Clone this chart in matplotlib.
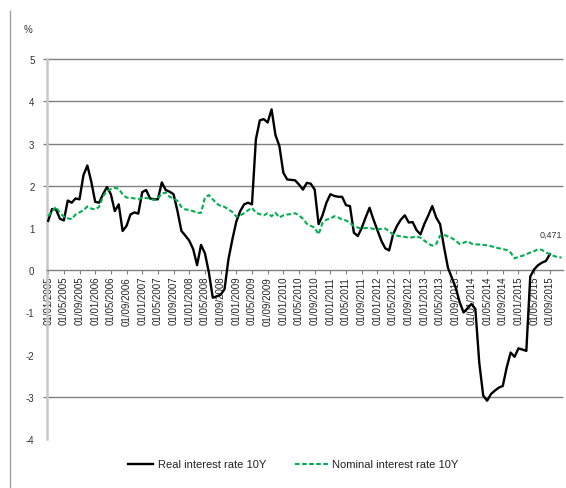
import matplotlib
matplotlib.use('Agg')
import matplotlib.pyplot as plt
from matplotlib.lines import Line2D

plt.rcParams['font.family'] = ['Liberation Sans', 'DejaVu Sans']

# monthly values, first point = 01/01/2005
real_rate = [
    1.17, 1.45, 1.44, 1.22, 1.18, 1.65, 1.60, 1.70, 1.68, 2.25, 2.48, 2.10,
    1.62, 1.60, 1.80, 1.97, 1.80, 1.40, 1.56, 0.93, 1.05, 1.32, 1.37, 1.34,
    1.85, 1.90, 1.70, 1.68, 1.68, 2.08, 1.90, 1.86, 1.80, 1.40, 0.93, 0.82,
    0.70, 0.50, 0.12, 0.60, 0.40, -0.05, -0.65, -0.62, -0.58, -0.45, 0.26, 0.73,
    1.15, 1.40, 1.56, 1.60, 1.56, 3.10, 3.55, 3.58, 3.50, 3.81, 3.20, 2.94,
    2.31, 2.15, 2.14, 2.13, 2.03, 1.91, 2.07, 2.05, 1.91, 1.09, 1.30, 1.60,
    1.80, 1.76, 1.74, 1.74, 1.54, 1.52, 0.89, 0.81, 1.00, 1.25, 1.48, 1.20,
    0.95, 0.70, 0.52, 0.47, 0.85, 1.05, 1.20, 1.30, 1.13, 1.14, 0.95, 0.85,
    1.10, 1.30, 1.52, 1.25, 1.09, 0.55, 0.06, -0.18, -0.42, -0.76, -1.00, -0.90,
    -0.80, -0.92, -2.20, -2.97, -3.09, -2.93, -2.85, -2.78, -2.74, -2.30, -1.95, -2.05,
    -1.85, -1.88, -1.91, -0.15, 0.02, 0.12, 0.18, 0.22, 0.38,
]

nominal_rate = [
    1.28, 1.40, 1.50, 1.36, 1.27, 1.23, 1.21, 1.32, 1.37, 1.42, 1.51, 1.46,
    1.44, 1.50, 1.75, 1.88, 1.92, 1.95, 1.93, 1.80, 1.72, 1.72, 1.70, 1.68,
    1.72, 1.71, 1.70, 1.66, 1.70, 1.82, 1.84, 1.74, 1.70, 1.64, 1.50, 1.44,
    1.43, 1.40, 1.36, 1.36, 1.72, 1.78, 1.68, 1.58, 1.52, 1.50, 1.44, 1.38,
    1.27, 1.30, 1.35, 1.42, 1.48, 1.36, 1.33, 1.30, 1.35, 1.28, 1.36, 1.25,
    1.30, 1.32, 1.33, 1.35, 1.30, 1.22, 1.10, 1.05, 1.01, 0.85, 1.12, 1.20,
    1.22, 1.28, 1.25, 1.20, 1.18, 1.12, 1.05, 1.01, 0.99, 1.00, 1.00, 0.98,
    0.97, 0.98, 0.99, 0.92, 0.85, 0.82, 0.80, 0.79, 0.77, 0.78, 0.80, 0.77,
    0.70, 0.63, 0.58, 0.62, 0.82, 0.84, 0.80, 0.76, 0.70, 0.62, 0.65, 0.69,
    0.63, 0.61, 0.61, 0.60, 0.59, 0.57, 0.54, 0.52, 0.50, 0.48, 0.42, 0.28,
    0.32, 0.34, 0.38, 0.42, 0.45, 0.50, 0.48, 0.42, 0.38, 0.34, 0.31, 0.30,
]

# tick labels every 4 months
tick_labels = [f"01/{mo:02d}/{yr}" for yr in range(2005, 2016) for mo in (1, 5, 9)]
last_label = "0,471"

grid_values = [5, 4, 3, 2, -3]

fig = plt.figure(figsize=(5.66, 4.89), dpi=100)
ax = fig.add_axes([0.083, 0.100, 0.912, 0.777])

green = '#00b050'
dash = (0, (2.2, 1.2))

ax.plot(range(len(real_rate)), real_rate, color='black', lw=1.7, zorder=3)
ax.plot(range(len(nominal_rate)), nominal_rate, color=green, lw=1.5,
        linestyle=dash, zorder=3)

ax.set_xlim(-0.3, 131.4)
ax.set_ylim(-4, 5)

# gridlines, with small stubs left of the axis
ax.hlines(grid_values, -0.008, 1, transform=ax.get_yaxis_transform(),
          color='#808080', lw=1, clip_on=False, zorder=1)

for s in ['top', 'right']:
    ax.spines[s].set_visible(False)
ax.spines['left'].set_color('#c8c8c8')
ax.spines['left'].set_linewidth(1.8)
ax.spines['bottom'].set_position(('data', 0))
ax.spines['bottom'].set_color('#808080')
ax.spines['bottom'].set_linewidth(1)

ax.set_yticks(range(-4, 6))
ax.set_yticklabels([str(v) for v in range(-4, 6)])
ax.tick_params(axis='y', length=0, pad=9, labelsize=7, labelcolor='#333333')

ax.set_xticks(range(0, 129, 4))
ax.set_xticklabels(tick_labels, rotation=90)
ax.tick_params(axis='x', length=3, color='#808080', pad=1, labelsize=7,
               labelcolor='#222222')

ax.text(128.3, 0.85, last_label, ha='center', va='center', fontsize=6.5, color='#333333')

fig.text(0.041, 0.938, '%', fontsize=7, color='#333333', ha='left', va='center')

# left frame line
fig.add_artist(Line2D([0.0177, 0.0177], [0.0, 0.975], color='#a0a0a0', lw=1))

# legend drawn by hand
ly = 0.049
fig.add_artist(Line2D([128 / 566, 153 / 566], [ly, ly], color='black', lw=1.7))
fig.text(158 / 566, ly, 'Real interest rate 10Y', fontsize=8, color='#222222', va='center')
fig.add_artist(Line2D([295 / 566, 328 / 566], [ly, ly], color=green, lw=1.5,
                      linestyle=dash))
fig.text(332 / 566, ly, 'Nominal interest rate 10Y', fontsize=8, color='#222222', va='center')

fig.savefig('out.png', dpi=100)
